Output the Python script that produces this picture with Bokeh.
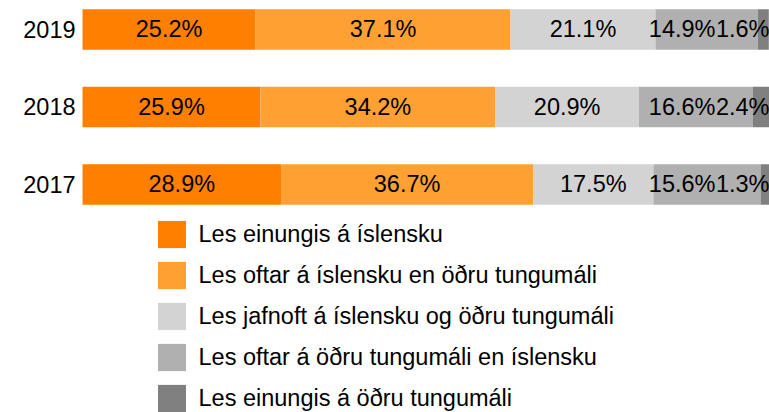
from bokeh.plotting import figure
from bokeh.models import ColumnDataSource, Range1d, Legend, LegendItem
from bokeh.embed import file_html
from bokeh.resources import INLINE
from bokeh.core.properties import value

# ---- data ----
years = ["2019", "2018", "2017"]
categories = [
    "Les einungis á íslensku",
    "Les oftar á íslensku en öðru tungumáli",
    "Les jafnoft á íslensku og öðru tungumáli",
    "Les oftar á öðru tungumáli en íslensku",
    "Les einungis á öðru tungumáli",
]
only_icelandic = [25.2, 25.9, 28.9]
mostly_icelandic = [37.1, 34.2, 36.7]
equally = [21.1, 20.9, 17.5]
mostly_other = [14.9, 16.6, 15.6]
only_other = [1.6, 2.4, 1.3]

colors = ["#FF8000", "#FFA033", "#D3D3D3", "#B0B0B0", "#808080"]
FONT = "Liberation Sans"
FS = "23.5px"

series = [only_icelandic, mostly_icelandic, equally, mostly_other, only_other]
keys = ["s0", "s1", "s2", "s3", "s4"]
ypos = [len(years) - 1 - i for i in range(len(years))]

data = {"year": years, "y": ypos}
for k, s in zip(keys, series):
    data[k] = s
source = ColumnDataSource(data)

p = figure(width=769, height=412,
           x_range=Range1d(-11.94, 100), y_range=Range1d(-2.942, 2.374),
           x_axis_location=None, y_axis_location=None,
           output_backend="svg", toolbar_location=None, min_border=0)
p.grid.visible = False
p.outline_line_color = None

renderers = p.hbar_stack(keys, y="y", height=0.52, color=colors,
                         line_color=None, source=source)

# segment labels
center_x, center_y, center_t = [], [], []
fourth_y, fourth_t = [], []
last_y, last_t = [], []
for yi, row in enumerate(zip(*series)):
    left = 0.0
    for j, v in enumerate(row):
        txt = f"{v:.1f}%"
        if j < 3:
            center_x.append(left + v / 2)
            center_y.append(ypos[yi])
            center_t.append(txt)
        elif j == 3:
            fourth_y.append(ypos[yi])
            fourth_t.append(txt)
        else:
            last_y.append(ypos[yi])
            last_t.append(txt)
        left += v

common = dict(text_font=value(FONT), text_font_size=FS, text_color="black",
              text_baseline="middle")
p.text(x=center_x, y=center_y, text=center_t, text_align="center", **common)
p.text(x=[100] * len(fourth_y), y=fourth_y, text=fourth_t, text_align="right",
       x_offset=-54, **common)
p.text(x=[100] * len(last_y), y=last_y, text=last_t, text_align="right", **common)

# year labels
p.text(x=[0] * len(years), y=ypos, text=years, text_align="right", x_offset=-7, **common)

legend = Legend(items=[LegendItem(label=c, renderers=[r]) for c, r in zip(categories, renderers)],
                location=(153.5, -3), orientation="vertical",
                glyph_width=35, glyph_height=34, spacing=7, label_standoff=10,
                padding=0, margin=0, border_line_color=None, background_fill_alpha=0,
                label_text_font=FONT, label_text_font_size=FS, label_text_color="black")
p.add_layout(legend)

open("out.html", "w").write(file_html(p, INLINE))
